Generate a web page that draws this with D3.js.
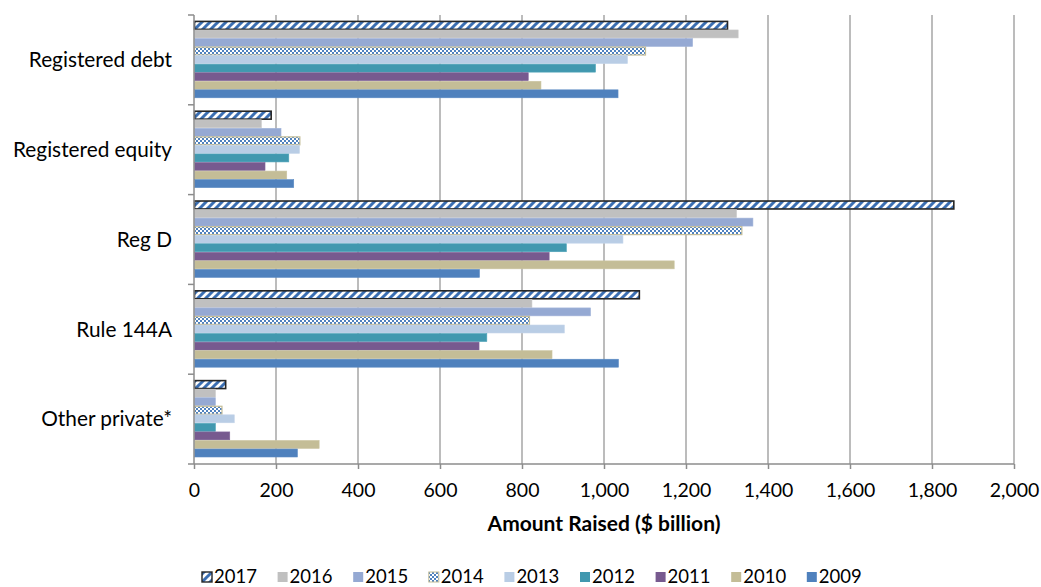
<!DOCTYPE html>
<html><head><meta charset="utf-8">
<script src="https://cdn.jsdelivr.net/npm/d3@7"></script>
<style>
body{margin:0;background:#fff;}
svg{display:block;font-family:Lato,"Open Sans",sans-serif;}
</style></head>
<body><svg id="c" width="1041" height="587"></svg>
<script>
const categories = ["Registered debt","Registered equity","Reg D","Rule 144A","Other private*"];
const years = ["2017","2016","2015","2014","2013","2012","2011","2010","2009"];
const v2017 = [1300, 187, 1852, 1085, 76];
const v2016 = [1326, 163, 1322, 823, 51];
const v2015 = [1215, 211, 1362, 966, 51];
const v2014 = [1100, 257, 1335, 817, 67];
const v2013 = [1056, 256, 1045, 902, 97];
const v2012 = [978, 230, 907, 713, 51];
const v2011 = [814, 172, 865, 694, 86];
const v2010 = [845, 225, 1170, 872, 304];
const v2009 = [1033, 242, 695, 1034, 251];
const xTicks = [0,200,400,600,800,1000,1200,1400,1600,1800,2000];
const xTitle = "Amount Raised ($ billion)";

const series = [v2017,v2016,v2015,v2014,v2013,v2012,v2011,v2010,v2009];
const fills = ["url(#hatch)","#c0c0c0","#95a9d3","url(#check)","#b9cde5","#4198af","#775a8f","#c4bd97","#4f81bd"];
const strokes = ["#262626","#c8c8c8","#a3b5da","#c4bd97","#c3d4e9","#4ea3b8","#81669a","#cbc5a2","#5b8ac3"];

const svg = d3.select("#c");
const defs = svg.append("defs");
const h = defs.append("pattern").attr("id","hatch").attr("patternUnits","userSpaceOnUse")
  .attr("width",8).attr("height",8);
h.append("rect").attr("width",8).attr("height",8).attr("fill","#fff");
h.append("path").attr("d","M-2,10 L10,-2 M-6,6 L6,-6 M2,14 L14,2").attr("stroke","#3b6fb3").attr("stroke-width",3);
const c = defs.append("pattern").attr("id","check").attr("patternUnits","userSpaceOnUse")
  .attr("width",4).attr("height",4);
c.append("rect").attr("width",4).attr("height",4).attr("fill","#fff");
c.append("rect").attr("width",2).attr("height",2).attr("fill","#4f81bd");
c.append("rect").attr("x",2).attr("y",2).attr("width",2).attr("height",2).attr("fill","#4f81bd");

const x = d3.scaleLinear().domain([0,2000]).range([194,1014]);
const y = d3.scaleBand().domain(categories).range([15,464]);
const yi = d3.scaleBand().domain(years).range([0,y.bandwidth()]).paddingOuter(0.75).paddingInner(0);

// gridlines
svg.append("g").selectAll("line").data(xTicks.slice(1)).join("line")
  .attr("x1",d=>x(d)).attr("x2",d=>x(d)).attr("y1",15).attr("y2",464)
  .attr("stroke","#a6a6a6").attr("stroke-width",1.5);

// bars
const g = svg.append("g");
series.forEach((vals,si)=>{
  g.selectAll(null).data(vals).join("rect")
    .attr("x",x(0)+0.5)
    .attr("y",(d,i)=>y(categories[i])+yi(years[si]))
    .attr("width",d=>x(d)-x(0))
    .attr("height",yi.bandwidth()-0.6)
    .attr("fill",fills[si])
    .attr("stroke",strokes[si])
    .attr("stroke-width",si===0?1.6:(si===3?1.2:0.6));
});

// x axis
const xa = svg.append("g").attr("transform","translate(0,464)")
  .call(d3.axisBottom(x).tickValues(xTicks).tickSize(5).tickPadding(14).tickFormat(d3.format(",")));
xa.select(".domain").attr("stroke","#8c8c8c").attr("stroke-width",1.5).attr("d","M194,0H1014");
xa.selectAll(".tick line").attr("stroke","#8c8c8c").attr("stroke-width",1.5);
xa.selectAll("text").attr("font-size",19.5).attr("fill","#000").attr("font-family","Lato");

// y axis
const ya = svg.append("g").attr("transform","translate(194,0)");
ya.append("line").attr("x1",0).attr("x2",0).attr("y1",15).attr("y2",464).attr("stroke","#8c8c8c").attr("stroke-width",1.5);
const bounds = categories.map(c=>y(c)).concat([464]);
ya.selectAll("line.t").data(bounds).join("line").attr("class","t")
  .attr("x1",-6).attr("x2",0).attr("y1",d=>d).attr("y2",d=>d).attr("stroke","#8c8c8c").attr("stroke-width",1.5);
ya.selectAll("text").data(categories).join("text")
  .attr("x",-22).attr("y",d=>y(d)+y.bandwidth()/2).attr("dy","0.35em")
  .attr("text-anchor","end").attr("font-size",20.8).attr("fill","#000").text(d=>d);

svg.append("text").attr("x",604).attr("y",524).attr("dy","0.35em").attr("text-anchor","middle")
  .attr("font-size",21).attr("font-weight","bold").text(xTitle);

// legend
const lg = svg.append("g");
years.forEach((yr,i)=>{
  const lx = 202 + i*75.6;
  lg.append("rect").attr("x",lx).attr("y",572).attr("width",10).attr("height",10)
    .attr("fill",fills[i]).attr("stroke",i===0?"#262626":(i===3?"#c4bd97":"none")).attr("stroke-width",i===0?1.4:1);
  lg.append("text").attr("x",lx+12).attr("y",582.5).attr("font-size",18.5).text(yr);
});
</script></body></html>
